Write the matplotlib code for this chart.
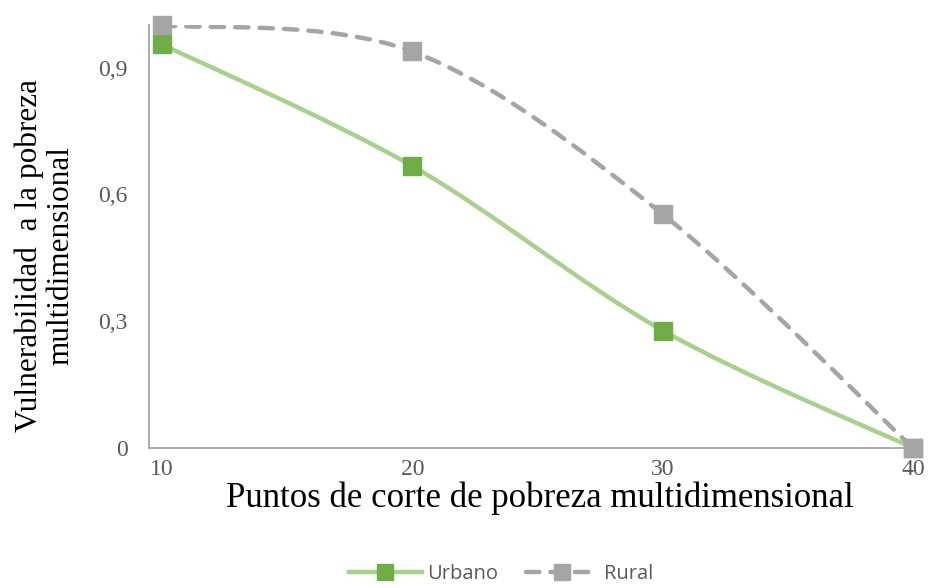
import numpy as np
import matplotlib.pyplot as plt
from matplotlib.path import Path
from matplotlib.patches import PathPatch
from matplotlib.lines import Line2D

# datos
puntos = [10, 20, 30, 40]
urbano = [0.955, 0.667, 0.278, 0.0]
rural = [1.0, 0.938, 0.553, 0.0]
yticks = [0, 0.3, 0.6, 0.9]
ytick_labels = ['0', '0,3', '0,6', '0,9']

c_urb_line = '#A9D18E'
c_urb_mark = '#70AD47'
c_rur = '#A5A5A5'
c_txt = '#595959'
dash = (0, (3, 2.5))


def curva_suave(xs, ys):
    # curva suavizada tipo Excel (Catmull-Rom -> Bezier)
    p = np.column_stack([xs, ys]).astype(float)
    ext = np.vstack([p[0], p, p[-1]])
    verts = [p[0]]
    codes = [Path.MOVETO]
    for i in range(len(p) - 1):
        a, b, c, d = ext[i], ext[i + 1], ext[i + 2], ext[i + 3]
        verts += [b + (c - a) / 6, c - (d - b) / 6, c]
        codes += [Path.CURVE4] * 3
    return Path(verts, codes)


fig = plt.figure(figsize=(9.3, 5.88), dpi=100)
ax = fig.add_axes([0.160, 0.238, 0.830, 0.719])

pu = PathPatch(curva_suave(puntos, urbano), fill=False, edgecolor=c_urb_line,
               lw=3.2, capstyle='round', joinstyle='round')
ax.add_patch(pu)
ax.plot(puntos, urbano, ls='none', marker='s', ms=13.5, color=c_urb_mark,
        mec=c_urb_mark, clip_on=False, zorder=3)

pr = PathPatch(curva_suave(puntos, rural), fill=False, edgecolor=c_rur,
               lw=3.2, linestyle=dash, capstyle='round', joinstyle='round')
ax.add_patch(pr)
ax.plot(puntos, rural, ls='none', marker='s', ms=13.5, color=c_rur,
        mec=c_rur, clip_on=False, zorder=4)

ax.set_xlim(9.48, 40.3)
ax.set_ylim(0, 1.0)
ax.set_xticks(puntos)
ax.set_yticks(yticks)
ax.set_yticklabels(ytick_labels)
ax.tick_params(length=0, labelsize=17, labelcolor=c_txt)
ax.tick_params(axis='x', pad=8)
ax.tick_params(axis='y', pad=15)
for lab in ax.get_xticklabels() + ax.get_yticklabels():
    lab.set_family('Liberation Serif')

for s in ['top', 'right']:
    ax.spines[s].set_visible(False)
for s in ['left', 'bottom']:
    ax.spines[s].set_color('#A6A6A6')
    ax.spines[s].set_linewidth(1.3)

ax.set_xlabel('Puntos de corte de pobreza multidimensional', family='Liberation Serif',
              fontsize=25)
ax.xaxis.set_label_coords(0.506, -0.08)
ax.set_ylabel('Vulnerabilidad  a la pobreza\nmultidimensional', family='Liberation Serif',
              fontsize=22.5, linespacing=1.1)
ax.yaxis.set_label_coords(-0.095, 0.455)

h_urb = Line2D([], [], color=c_urb_line, lw=3.2, marker='s', ms=11,
               mfc=c_urb_mark, mec=c_urb_mark)
h_rur = Line2D([], [], color=c_rur, lw=3.2, ls=dash, marker='s', ms=11,
               mfc=c_rur, mec=c_rur, dash_capstyle='round')
leg = fig.legend([h_urb, h_rur], ['Urbano', 'Rural'], loc='center',
                 bbox_to_anchor=(0.539, 0.024), ncol=2, frameon=False,
                 handlelength=3.6, columnspacing=1.35, handletextpad=0.3,
                 prop={'family': 'Open Sans', 'size': 14.5})
for t in leg.get_texts():
    t.set_color(c_txt)

fig.savefig('out.png', dpi=100)
